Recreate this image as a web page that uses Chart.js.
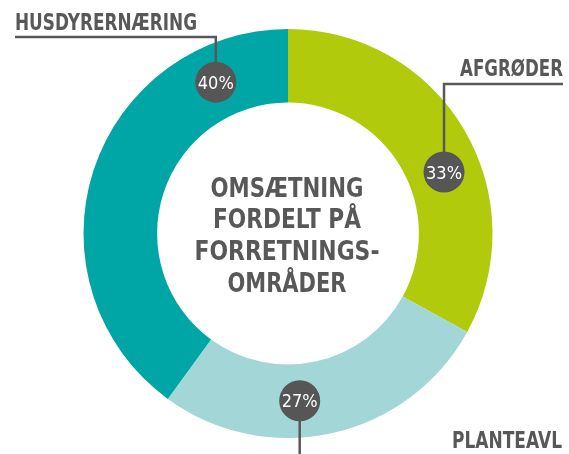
<!DOCTYPE html>
<html>
<head>
<meta charset="utf-8">
<script src="https://cdn.jsdelivr.net/npm/chart.js@4"></script>
<style>
  html, body { margin: 0; padding: 0; background: #fff; }
  #wrap { width: 569px; height: 454px; position: relative; }
</style>
</head>
<body>
<div id="wrap"><canvas id="chart"></canvas></div>
<script>
// omsætning fordelt på forretningsområder — doughnut

const segments = ['AFGRØDER', 'PLANTEAVL', 'HUSDYRERNÆRING'];
const shares = [33, 27, 40];
const colors = ['#b1cb0c', '#a3d6d7', '#00a6a5'];
const centerLines = ['OMSÆTNING', 'FORDELT PÅ', 'FORRETNINGS-', 'OMRÅDER'];

const GRAY = '#585858';
const FONT = '"DejaVu Sans", sans-serif';

// layout bits: badge angle on ring (deg clockwise from top), text widths in the original
const badgeAngles = [68.5, 176, 334.5];
const captionWidths = [103, 110, 182];
const centerWidths = [153, 148, 185, 119];

// draws text squeezed horizontally to a given width (the original uses a condensed face)
function fitText(ctx, text, x, y, font, width, align, color) {
  ctx.save();
  ctx.font = font;
  ctx.fillStyle = color;
  ctx.textBaseline = 'alphabetic';
  const sx = width / ctx.measureText(text).width;
  let left = x;
  if (align === 'center') left = x - width / 2;
  if (align === 'right') left = x - width;
  ctx.translate(left, y);
  ctx.scale(sx, 1);
  ctx.textAlign = 'left';
  ctx.fillText(text, 0, 0);
  ctx.restore();
}

const overlay = {
  id: 'overlay',
  afterDraw(chart) {
    const ctx = chart.ctx;
    const arc = chart.getDatasetMeta(0).data[0];
    const { x: cx, y: cy, innerRadius, outerRadius } = arc.getProps(['x', 'y', 'innerRadius', 'outerRadius'], true);
    const midR = (innerRadius + outerRadius) / 2;

    // center title
    centerLines.forEach((line, i) => {
      fitText(ctx, line, cx - 1, cy - 37 + i * 31.7, `bold 27px ${FONT}`, centerWidths[i], 'center', GRAY);
    });

    const pts = badgeAngles.map(a => {
      const rad = a * Math.PI / 180;
      return { x: cx + midR * Math.sin(rad), y: cy - midR * Math.cos(rad) };
    });

    // leader lines
    ctx.save();
    ctx.strokeStyle = GRAY;
    ctx.lineWidth = 2.5;
    ctx.beginPath();
    ctx.moveTo(pts[0].x, pts[0].y);
    ctx.lineTo(pts[0].x, 84);
    ctx.lineTo(563, 84);
    ctx.moveTo(pts[1].x, pts[1].y);
    ctx.lineTo(pts[1].x, chart.height);
    ctx.moveTo(pts[2].x, pts[2].y);
    ctx.lineTo(pts[2].x, 37);
    ctx.lineTo(15, 37);
    ctx.stroke();
    ctx.restore();

    // badges
    pts.forEach((p, i) => {
      ctx.save();
      ctx.fillStyle = '#565656';
      ctx.beginPath();
      ctx.arc(p.x, p.y, 20.5, 0, Math.PI * 2);
      ctx.fill();
      ctx.restore();
      fitText(ctx, shares[i] + '%', p.x, p.y + 6.5, `18px ${FONT}`, 36, 'center', '#fff');
    });

    // captions
    const capFont = `bold 23px ${FONT}`;
    fitText(ctx, segments[0], 563, 76, capFont, captionWidths[0], 'right', GRAY);
    fitText(ctx, segments[1], 562, 448, capFont, captionWidths[1], 'right', GRAY);
    fitText(ctx, segments[2], 15, 30, capFont, captionWidths[2], 'left', GRAY);
  }
};

new Chart(document.getElementById('chart'), {
  type: 'doughnut',
  data: {
    labels: segments,
    datasets: [{
      data: shares,
      backgroundColor: colors,
      borderWidth: 0,
      hoverOffset: 0
    }]
  },
  options: {
    responsive: true,
    maintainAspectRatio: false,
    animation: false,
    cutout: '64%',
    layout: { padding: { top: 29, bottom: 16, left: 7, right: 0 } },
    plugins: {
      legend: { display: false },
      tooltip: { enabled: false }
    }
  },
  plugins: [overlay]
});
</script>
</body>
</html>
